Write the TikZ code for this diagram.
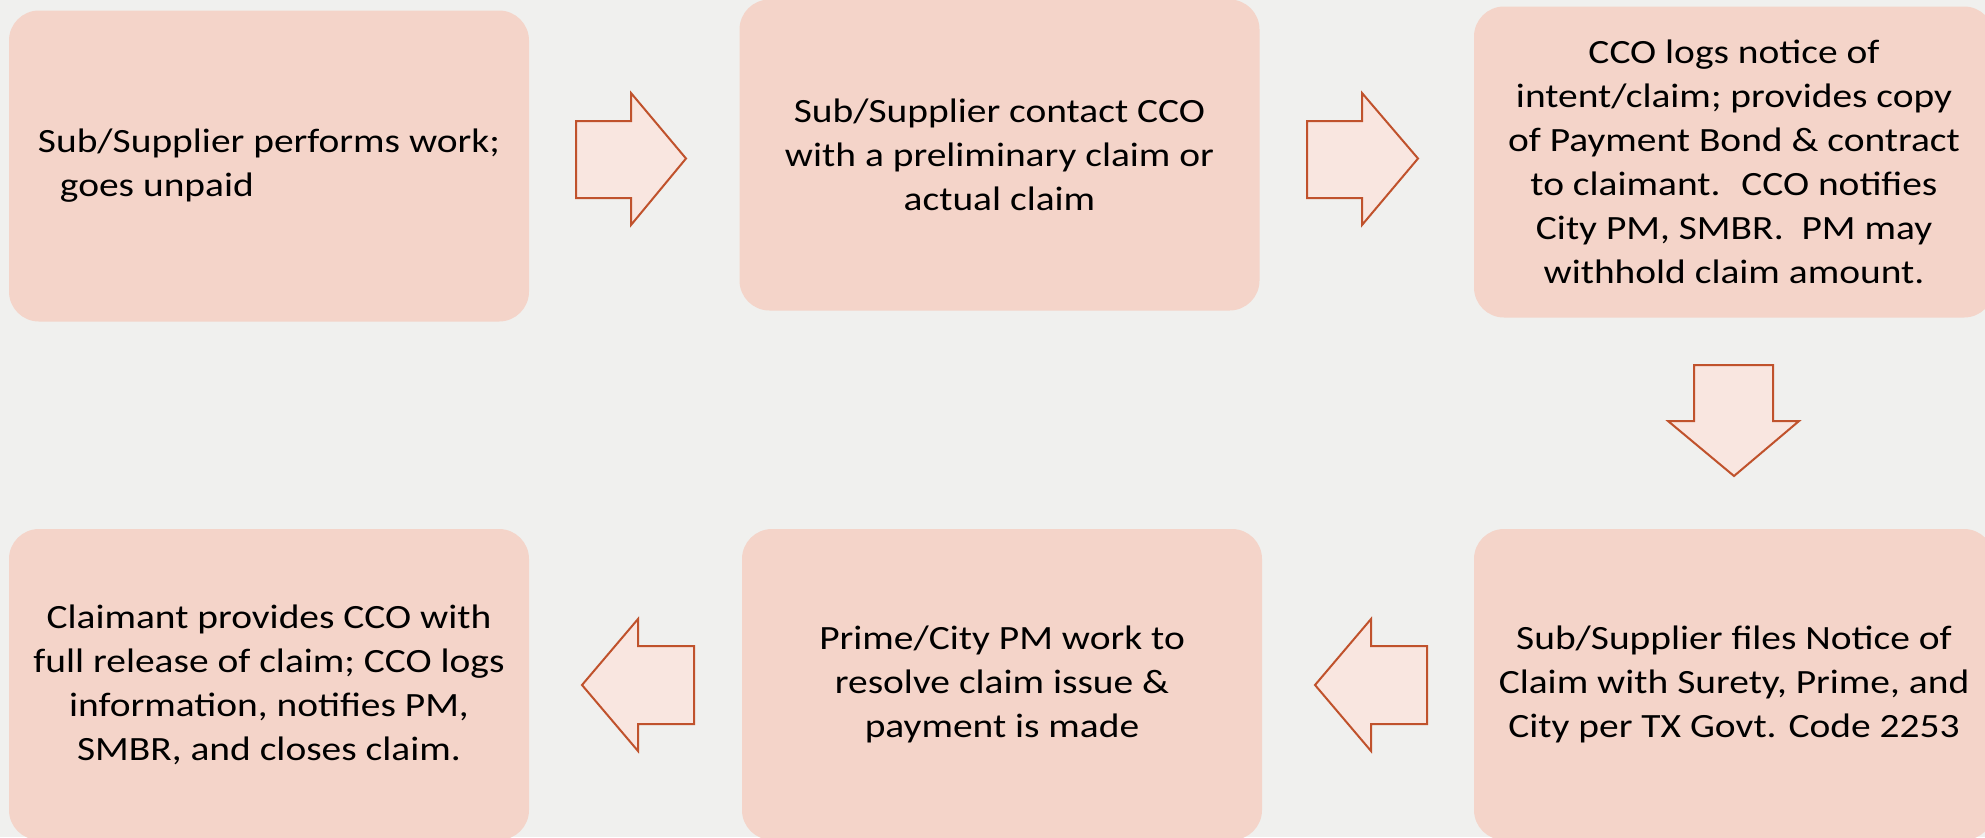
\documentclass[tikz,border=0pt]{standalone}
\usepackage{fontspec}
\setmainfont{Carlito}[FakeStretch=1.16]
\usepackage{tikz}

\definecolor{bg}{RGB}{240,240,238}
\definecolor{boxfill}{RGB}{244,212,201}
\definecolor{arrowfill}{RGB}{249,230,224}
\definecolor{arrowline}{RGB}{192,82,44}

\tikzset{
  stepbox/.style={fill=boxfill, rounded corners=15pt, inner sep=0pt,
    minimum width=260pt, minimum height=155.5pt, align=center,
    font=\fontsize{17pt}{22pt}\selectfont},
  blockarrow/.style={fill=arrowfill, draw=arrowline, line width=1pt}
}

\begin{document}
\begin{tikzpicture}[x=0.5pt,y=-0.5pt]

\fill[bg] (0,0) rectangle (1985,837);
\useasboundingbox (0,0) rectangle (1985,837);

% top row
\node[stepbox, align=left] (unpaid) at (269,166)
  {Sub/Supplier performs work;\\\hspace*{11pt}goes unpaid};
\node[stepbox] (contact) at (999.5,155)
  {Sub/Supplier contact CCO\\with a preliminary claim or\\actual claim};
\node[stepbox] (logs) at (1734,162)
  {CCO logs notice of\\intent/claim; provides copy\\of Payment Bond \& contract\\to claimant.~ CCO notifies\\City PM, SMBR.~ PM may\\withhold claim amount.};

% bottom row
\node[stepbox] (release) at (269,684.5)
  {Claimant provides CCO with\\full release of claim; CCO logs\\information, notifies PM,\\SMBR, and closes claim.};
\node[stepbox] (resolve) at (1002,684.5)
  {Prime/City PM work to\\resolve claim issue \&\\payment is made};
\node[stepbox] (files) at (1734,684.5)
  {Sub/Supplier files Notice of\\Claim with Surety, Prime, and\\City per TX Govt. Code 2253};

% block arrows
\draw[blockarrow] (576,121) -- (631,121) -- (631,93) -- (686,158.5)
  -- (631,225) -- (631,198) -- (576,198) -- cycle;
\draw[blockarrow] (1307,121) -- (1362,121) -- (1362,93) -- (1418,158.5)
  -- (1362,225) -- (1362,198) -- (1307,198) -- cycle;
\draw[blockarrow] (1694,365) -- (1773,365) -- (1773,421) -- (1799,421)
  -- (1734,476) -- (1668,421) -- (1694,421) -- cycle;
\draw[blockarrow] (1427,646) -- (1371,646) -- (1371,619) -- (1315,685)
  -- (1371,751) -- (1371,724) -- (1427,724) -- cycle;
\draw[blockarrow] (694,646) -- (638,646) -- (638,619) -- (582,685)
  -- (638,751) -- (638,724) -- (694,724) -- cycle;

\end{tikzpicture}
\end{document}
